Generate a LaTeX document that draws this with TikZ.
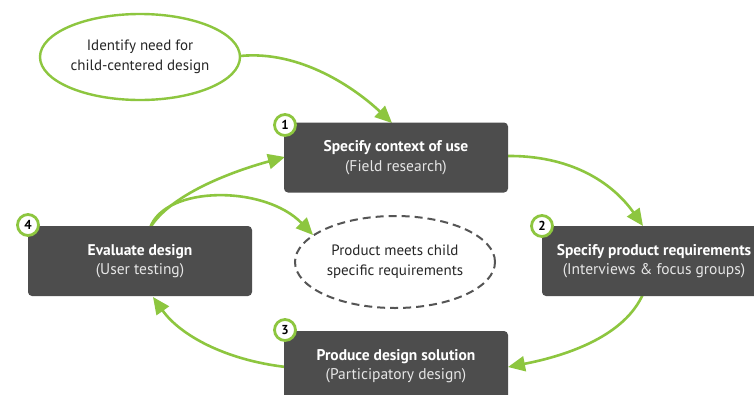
\documentclass[tikz,border=0pt]{standalone}
\usepackage{fontspec}
\setmainfont{PT Sans}
\usetikzlibrary{shapes.geometric,arrows.meta}
\definecolor{lgreen}{HTML}{8DC63F}
\definecolor{boxgray}{HTML}{4D4D4D}
\definecolor{subgray}{HTML}{E6E6E6}
\definecolor{dashgray}{HTML}{555555}
\begin{document}
\begin{tikzpicture}[x=1pt,y=-1pt,
 stepbox/.style={fill=boxgray, rounded corners=4pt, minimum width=224pt, minimum height=70pt,
   text=white, align=center, font=\fontsize{15.5}{19.5}\selectfont, inner sep=0pt},
 badge/.style={circle, draw=lgreen, line width=2.8pt, fill=white, minimum size=21pt, inner sep=0pt,
   font=\bfseries\fontsize{13}{13}\selectfont},
 flow/.style={draw=lgreen, line width=2.6pt, -{Triangle[length=17pt,width=15pt]}},
 oval/.style={ellipse, minimum width=200pt, minimum height=86pt, inner sep=0pt, align=center,
   font=\fontsize{15}{20}\selectfont, text=black!85},
]
\clip (0,0) rectangle (754,394);
\useasboundingbox (0,0) rectangle (754,394);
\fill[white] (0,0) rectangle (754,394);

% nodes
\node[oval, draw=lgreen, line width=2.4pt, fill=white] (need) at (140,57) {Identify need for\\child-centered design};
\node[oval, draw=dashgray, line width=2pt, dash pattern=on 8pt off 5pt, minimum height=92pt] (meets) at (395,262) {Product meets child\\specific requirements};

\coordinate (a0s) at (240,56);
\coordinate (a0e) at (392,123);
\coordinate (a1s) at (506,156);
\coordinate (a1e) at (643,226);
\coordinate (a2s) at (643,294);
\coordinate (a2e) at (508,367);
\coordinate (a3s) at (286,367);
\coordinate (a3e) at (153,297);
\coordinate (a4s) at (150,228);
\coordinate (a4e) at (285,157);
\coordinate (a5e) at (313,235);

\draw[flow] (a0s) .. controls (300,50) and (355,88) .. (a0e);
\draw[flow] (a1s) .. controls (570,155) and (612,182) .. (a1e);
\draw[flow] (a2s) .. controls (625,335) and (570,355) .. (a2e);
\draw[flow] (a3s) .. controls (225,360) and (180,335) .. (a3e);
\draw[flow] (a4s) .. controls (170,195) and (230,172) .. (a4e);
\draw[flow] (a4s) .. controls (165,185) and (265,185) .. (a5e);

\node[stepbox] (s1) at (396,157.5) {{\bfseries Specify context of use}\\{\color{subgray}(Field research)}};
\node[stepbox] (s2) at (654,261) {{\bfseries Specify product requirements}\\{\color{subgray}(Interviews \& focus groups)}};
\node[stepbox] (s3) at (396,366) {{\bfseries Produce design solution}\\{\color{subgray}(Participatory design)}};
\node[stepbox] (s4) at (140,261) {{\bfseries Evaluate design}\\{\color{subgray}(User testing)}};

\node[badge] (n1) at (285,125) {1};
\node[badge] (n2) at (542,226) {2};
\node[badge] (n3) at (285,330) {3};
\node[badge] (n4) at (28,225) {4};
\end{tikzpicture}
\end{document}
